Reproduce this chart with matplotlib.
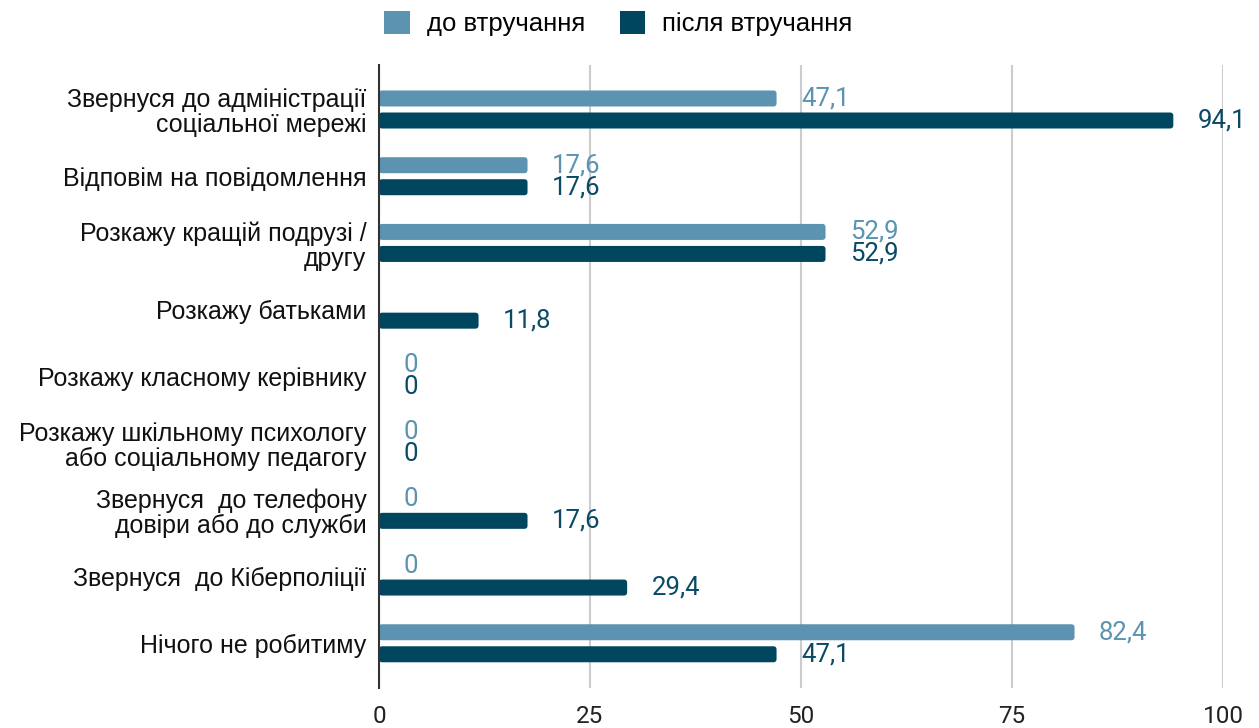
import numpy as np
import matplotlib
matplotlib.use("Agg")
import matplotlib.pyplot as plt
from matplotlib.patches import FancyBboxPatch

categories = [
    "Звернуся до адміністрації\nсоціальної мережі",
    "Відповім на повідомлення",
    "Розкажу кращій подрузі /\nдругу",
    "Розкажу батьками",
    "Розкажу класному керівнику",
    "Розкажу шкільному психологу\nабо соціальному педагогу",
    "Звернуся  до телефону\nдовіри або до служби",
    "Звернуся  до Кіберполіції",
    "Нічого не робитиму",
]
before = [47.1, 17.6, 52.9, np.nan, 0, 0, 0, 0, 82.4]
after = [94.1, 17.6, 52.9, 11.8, 0, 0, 17.6, 29.4, 47.1]
series_names = ["до втручання", "після втручання"]
xticks = [0, 25, 50, 75, 100]

light = "#5b93b0"
dark = "#01465f"

fig = plt.figure(figsize=(12.59, 7.28), dpi=100)
ax = fig.add_axes([0.301, 0.055, 0.6705, 0.856])

y = np.arange(len(categories))
h = 0.24
off = 0.165

b1 = ax.barh(y - off, np.nan_to_num(before), height=h, color=light, label=series_names[0])
b2 = ax.barh(y + off, after, height=h, color=dark, label=series_names[1])

# swap the plain rectangles for ones with slightly rounded corners
for bars, col in [(b1, light), (b2, dark)]:
    for r in bars:
        r.set_visible(False)
        if r.get_width() <= 0:
            continue
        ax.add_patch(FancyBboxPatch((r.get_x(), r.get_y()), r.get_width(), r.get_height(),
                                    boxstyle="round,pad=0,rounding_size=0.4",
                                    mutation_aspect=0.12, facecolor=col,
                                    edgecolor="none", zorder=3))

# value labels
for i in range(len(categories)):
    if not np.isnan(before[i]):
        ax.text(before[i] + 2.9, y[i] - off, f"{before[i]:g}".replace(".", ","),
                color=light, fontsize=18.5, family="Roboto", va="center", ha="left")
    ax.text(after[i] + 2.9, y[i] + off, f"{after[i]:g}".replace(".", ","),
            color="#0b4a66", fontsize=18.5, family="Roboto", va="center", ha="left")

ax.set_xlim(0, 100)
ax.set_ylim(len(categories) - 0.33, -0.67)
ax.set_xticks(xticks)
ax.set_xticklabels([str(t) for t in xticks], fontsize=17.5, family="Roboto", color="#222222")
ax.set_yticks(y)
ax.set_yticklabels(categories, fontsize=18, family="Liberation Sans", color="#111111",
                   linespacing=1.05)
ax.tick_params(axis="both", length=0)
ax.tick_params(axis="y", pad=9)
ax.tick_params(axis="x", pad=12)

ax.grid(axis="x", color="#cccccc", linewidth=1.5, zorder=0)
ax.set_axisbelow(True)
for s in ["top", "right", "bottom"]:
    ax.spines[s].set_visible(False)
ax.spines["left"].set_color("#333333")
ax.spines["left"].set_linewidth(1.5)
ax.spines["left"].set_zorder(4)

leg_handles = [plt.Rectangle((0, 0), 1, 1, facecolor=light),
               plt.Rectangle((0, 0), 1, 1, facecolor=dark)]
fig.legend(handles=leg_handles, labels=series_names, loc="upper center",
           bbox_to_anchor=(0.491, 0.996), ncol=2, frameon=False, borderaxespad=0.1,
           borderpad=0.2,
           prop={"family": "Liberation Sans", "size": 18.5},
           handlelength=1.0, handleheight=1.0, columnspacing=1.35, handletextpad=0.65)

fig.savefig("out.png", dpi=100)
